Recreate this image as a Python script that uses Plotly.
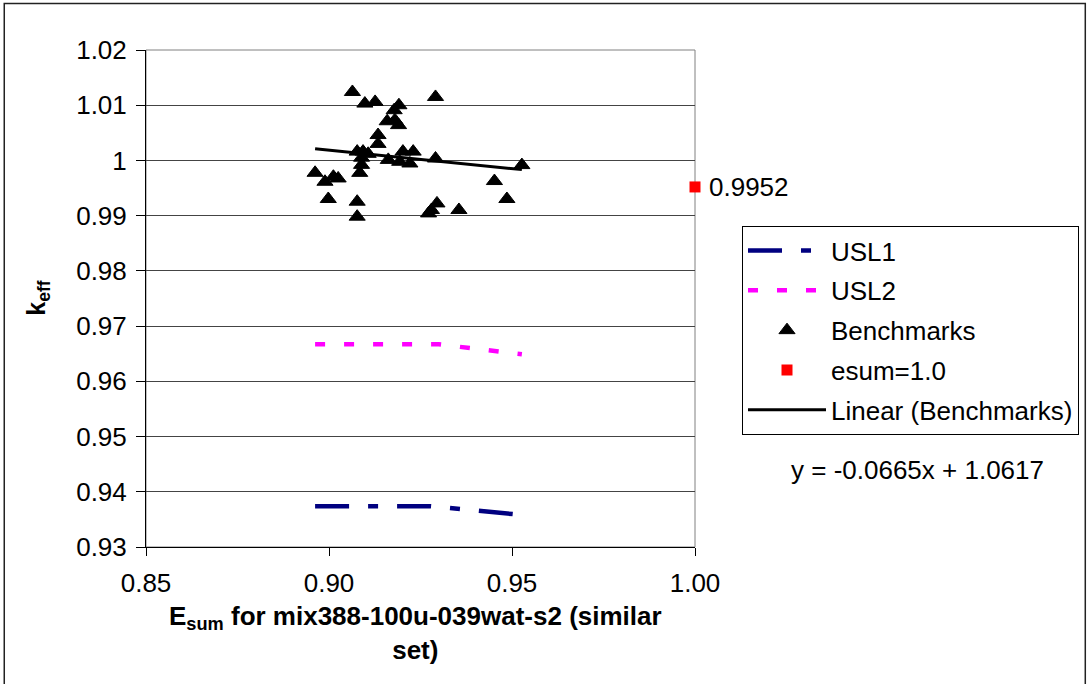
import plotly.graph_objects as go

# ---- data ----
bench_x = [0.9064, 0.9098, 0.9126, 0.9191, 0.9178, 0.9291, 0.9159, 0.9180, 0.9190,
           0.9134, 0.9134, 0.9077, 0.9093, 0.9107, 0.9089, 0.9089, 0.9084, 0.9162,
           0.9202, 0.9230, 0.9193, 0.9221, 0.9291, 0.9527, 0.8962, 0.8989, 0.9012,
           0.9025, 0.8998, 0.9077, 0.9077, 0.9452, 0.9486, 0.9295, 0.9280, 0.9272,
           0.9355]
bench_y = [1.0124, 1.0103, 1.0106, 1.0100, 1.0091, 1.0115, 1.0071, 1.0073, 1.0064,
           1.0046, 1.0030, 1.0016, 1.0016, 1.0012, 1.0005, 0.9992, 0.99775, 1.0001,
           1.0016, 1.0016, 0.99976, 0.99945, 1.00035, 0.99916, 0.99776, 0.99614, 0.99705,
           0.99674, 0.99302, 0.99253, 0.98982, 0.99627, 0.99302, 0.99222, 0.99103, 0.99041,
           0.99103]

usl1_x = [0.8962, 0.9275, 0.9527]
usl1_y = [0.9374, 0.9374, 0.9358]
usl2_x = [0.8962, 0.9300, 0.9527]
usl2_y = [0.9667, 0.9667, 0.9649]

esum_x = [1.00]
esum_y = [0.9952]

trend_slope = -0.0665
trend_intercept = 1.0617

x_tickvals = [0.85, 0.90, 0.95, 1.00]
x_ticktext = ["0.85", "0.90", "0.95", "1.00"]
y_tickvals = [0.93, 0.94, 0.95, 0.96, 0.97, 0.98, 0.99, 1.00, 1.01, 1.02]
y_ticktext = ["0.93", "0.94", "0.95", "0.96", "0.97", "0.98", "0.99", "1", "1.01", "1.02"]

FONT = "Liberation Sans, Arial, sans-serif"
FS = 26

trend_x = [min(bench_x), max(bench_x)]
trend_y = [trend_slope * v + trend_intercept for v in trend_x]

fig = go.Figure()
fig.add_trace(go.Scatter(x=usl1_x, y=usl1_y, mode="lines", name="USL1", legendgroup="a",
                         line=dict(color="#000080", width=4.5, dash="34px,19px,10px,19px")))
fig.add_trace(go.Scatter(x=usl2_x, y=usl2_y, mode="lines", name="USL2", legendgroup="b",
                         line=dict(color="#FF00FF", width=4.5, dash="10px,19px")))
fig.add_trace(go.Scatter(x=bench_x, y=bench_y, mode="markers", name="Benchmarks", legendgroup="c",
                         marker=dict(symbol="triangle-up", size=14, color="black",
                                     line=dict(color="black", width=1))))
fig.add_trace(go.Scatter(x=esum_x, y=esum_y, mode="markers", name="esum=1.0", legendgroup="d",
                         cliponaxis=False,
                         marker=dict(symbol="square", size=11, color="#FF0000")))
fig.add_trace(go.Scatter(x=trend_x, y=trend_y, mode="lines", name="Linear (Benchmarks)", legendgroup="e",
                         line=dict(color="black", width=3)))

L, R, T, B = 146, 696, 49.5, 547.5
PW, PH = R - L, B - T


def px_x(p):
    return (p - L) / PW


def px_y(p):
    return 1 - (p - T) / PH


fig.update_layout(
    width=1090, height=684,
    margin=dict(l=L, r=1090 - R, t=T, b=684 - B, pad=0),
    paper_bgcolor="white", plot_bgcolor="white",
    font=dict(family=FONT, size=FS, color="black"),
    showlegend=True,
    legend=dict(x=px_x(742), y=px_y(226), xanchor="left", yanchor="top",
                bordercolor="black", borderwidth=1, bgcolor="white",
                font=dict(family=FONT, size=FS, color="black"),
                itemwidth=78, tracegroupgap=3, traceorder="grouped"),
    xaxis=dict(range=[0.85, 1.00], tickvals=x_tickvals, ticktext=x_ticktext,
               showgrid=False, zeroline=False, showline=True, linecolor="black", linewidth=1,
               ticks="outside", ticklen=8, tickcolor="black", tickwidth=1,
               tickfont=dict(family=FONT, size=FS), ticklabelstandoff=5),
    yaxis=dict(range=[0.93, 1.02], tickvals=y_tickvals, ticktext=y_ticktext,
               showgrid=True, gridcolor="#444444", gridwidth=1, zeroline=False,
               showline=True, linecolor="black", linewidth=1,
               ticks="outside", ticklen=9, tickcolor="black", tickwidth=1,
               tickfont=dict(family=FONT, size=FS), ticklabelstandoff=4),
    shapes=[
        dict(type="rect", xref="paper", yref="paper", x0=0, x1=1, y0=0, y1=1,
             line=dict(color="#808080", width=1), layer="below"),
        dict(type="rect", xref="paper", yref="paper", x0=px_x(4), x1=px_x(1087),
             y0=px_y(690), y1=px_y(3), line=dict(color="#222222", width=1.5), layer="below"),
    ],
    annotations=[
        dict(x=esum_x[0], y=esum_y[0], xref="x", yref="y", text=f"{esum_y[0]:.4f}",
             showarrow=False, xanchor="left", yanchor="middle", xshift=12,
             font=dict(family=FONT, size=FS)),
        dict(x=px_x(919), y=px_y(470), xref="paper", yref="paper",
             text=f"y = {trend_slope:.4f}x + {trend_intercept:.4f}",
             showarrow=False, xanchor="center", yanchor="middle",
             font=dict(family=FONT, size=FS)),
        dict(x=px_x(416), y=px_y(600), xref="paper", yref="paper",
             text="<b>E<sub>sum</sub> for mix388-100u-039wat-s2 (similar<br>set)</b>",
             showarrow=False, xanchor="center", yanchor="top",
             font=dict(family=FONT, size=FS)),
        dict(x=px_x(37), y=0.5, xref="paper", yref="paper",
             text="<b>k<sub>eff</sub></b>", textangle=-90,
             showarrow=False, xanchor="center", yanchor="middle",
             font=dict(family=FONT, size=25)),
    ],
)

fig.write_html("out.html", config={"displayModeBar": False},
               post_script="document.body.style.margin='0';")
